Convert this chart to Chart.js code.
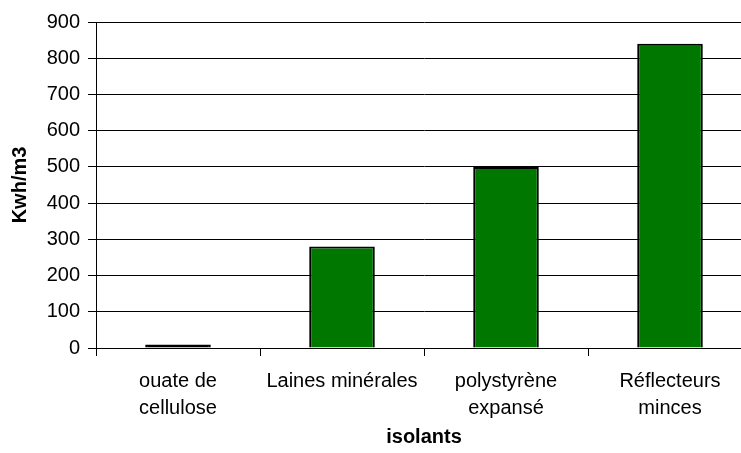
<!DOCTYPE html>
<html>
<head>
<meta charset="utf-8">
<script src="https://cdn.jsdelivr.net/npm/chart.js@4"></script>
<style>
  html, body { margin: 0; padding: 0; background: #fff; overflow: hidden; }
  #wrap { width: 760px; height: 453px; }
</style>
</head>
<body>
<div id="wrap"><canvas id="myChart" width="760" height="453"></canvas></div>
<script>
const categories = [['ouate de', 'cellulose'], 'Laines minérales', ['polystyrène', 'expansé'], ['Réflecteurs', 'minces']];
const values = [10, 280, 500, 840];
const yTicks = [0, 100, 200, 300, 400, 500, 600, 700, 800, 900];

const family = '"Liberation Sans", Arial, sans-serif';
Chart.defaults.color = '#000';

// the first bar is so thin that only its black outline shows
const barColors = ['#000', '#007800', '#007800', '#007800'];

const data = {
    labels: categories,
    datasets: [{
        data: values,
        backgroundColor: barColors,
        borderColor: '#000',
        borderWidth: 2,
        barPercentage: 0.4,
        categoryPercentage: 1
    }]
};

const config = {
    type: 'bar',
    data: data,
    options: {
        responsive: false,
        animation: false,
        layout: { padding: { top: 22, right: 8, left: 0, bottom: 0 } },
        plugins: { legend: { display: false }, tooltip: { enabled: false } },
        scales: {
            x: {
                offset: true,
                grid: { display: true, offset: true, drawOnChartArea: false, color: '#000', tickLength: 8 },
                border: { color: '#000', width: 1 },
                ticks: { font: { family: family, size: 20, lineHeight: 1.35 }, padding: 12, maxRotation: 0, autoSkip: false },
                title: { display: true, text: 'isolants', font: { family: family, size: 20, weight: 'bold' }, padding: { top: 8, bottom: 4 } },
                afterFit: s => { s.height = 105; }
            },
            y: {
                min: 0, max: 900,
                afterBuildTicks: s => { s.ticks = yTicks.map(v => ({ value: v })); },
                grid: { color: '#000', tickLength: 8 },
                border: { color: '#000', width: 1 },
                ticks: { font: { family: family, size: 20 }, padding: 8 },
                title: { display: true, text: 'Kwh/m3', font: { family: family, size: 20, weight: 'bold' }, padding: { top: 8, bottom: 0 } },
                afterFit: s => { s.width = 96; }
            }
        }
    }
};

const myChart = new Chart(document.getElementById('myChart'), config);
</script>
</body>
</html>
